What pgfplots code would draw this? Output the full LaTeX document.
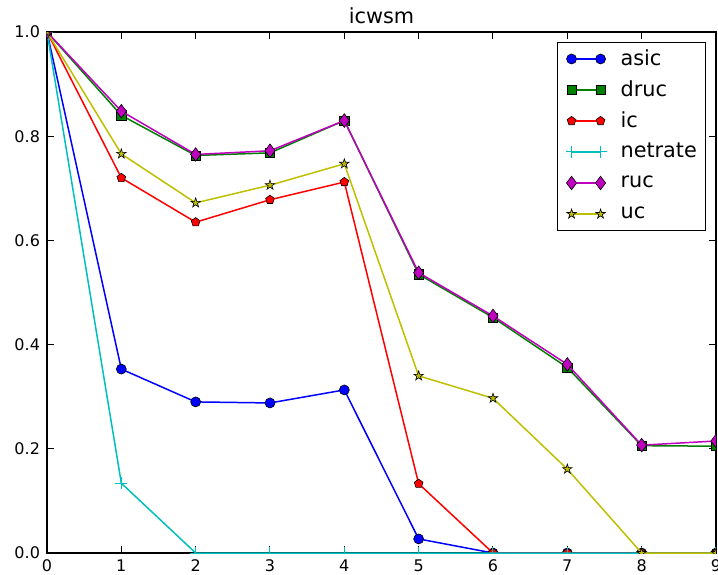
\documentclass[border=0pt]{standalone}
\usepackage{fontspec}
\setmainfont{DejaVu Sans}
\usepackage{pgfplots}
\pgfplotsset{compat=1.18}
\definecolor{mblue}{rgb}{0,0,1}
\definecolor{mgreen}{rgb}{0,0.5,0}
\definecolor{mred}{rgb}{1,0,0}
\definecolor{mcyan}{rgb}{0,0.75,0.75}
\definecolor{mmag}{rgb}{0.75,0,0.75}
\definecolor{myel}{rgb}{0.75,0.75,0}
% filled five-pointed star, like matplotlib's '*'
\pgfdeclareplotmark{fstar}{%
  \pgfpathmoveto{\pgfpointpolar{90}{\pgfplotmarksize}}%
  \pgfpathlineto{\pgfpointpolar{126}{0.382\pgfplotmarksize}}%
  \pgfpathlineto{\pgfpointpolar{162}{\pgfplotmarksize}}%
  \pgfpathlineto{\pgfpointpolar{198}{0.382\pgfplotmarksize}}%
  \pgfpathlineto{\pgfpointpolar{234}{\pgfplotmarksize}}%
  \pgfpathlineto{\pgfpointpolar{270}{0.382\pgfplotmarksize}}%
  \pgfpathlineto{\pgfpointpolar{306}{\pgfplotmarksize}}%
  \pgfpathlineto{\pgfpointpolar{342}{0.382\pgfplotmarksize}}%
  \pgfpathlineto{\pgfpointpolar{18}{\pgfplotmarksize}}%
  \pgfpathlineto{\pgfpointpolar{54}{0.382\pgfplotmarksize}}%
  \pgfpathclose
  \pgfusepathqfillstroke
}
\begin{document}
\begin{tikzpicture}
\begin{axis}[
  scale only axis,
  width=334.5pt, height=260.5pt,
  xmin=0, xmax=9, ymin=0, ymax=1,
  xtick={0,1,...,9},
  ytick={0,0.2,0.4,0.6,0.8,1.0},
  yticklabel style={/pgf/number format/.cd, fixed, fixed zerofill, precision=1},
  /pgf/number format/assume math mode=true,
  tick align=inside,
  major tick length=3.5pt,
  tick style={black, line width=0.5pt},
  axis line style={black, line width=1pt},
  ticklabel style={font=\fontsize{8}{9}\selectfont},
  title={icwsm},
  title style={font=\fontsize{10.4}{12}\selectfont, yshift=-5.5pt},
  clip marker paths=true,
  every axis plot/.append style={line width=0.75pt},
  legend cell align=left,
  legend style={at={(0.985,0.981)}, anchor=north east, draw=black, line width=0.6pt,
    font=\fontsize{10.4}{12}\selectfont, row sep=0pt, inner xsep=4.2pt, inner ysep=0.5pt,
    nodes={inner sep=0pt, minimum height=15.5pt},
    /tikz/every odd column/.append style={column sep=7pt}},
  legend image code/.code={\draw plot coordinates {(0pt,0pt) (14.5pt,0pt)};},
]
\addplot[mblue, mark=*, mark size=2.5pt, mark options={fill=mblue, draw=black, line width=0.3pt}] coordinates {
  (0,1.0)(1,0.353)(2,0.290)(3,0.288)(4,0.313)(5,0.027)(6,0)(7,0)(8,0)(9,0)};
\addlegendentry{asic}
\addplot[mgreen, mark=square*, mark size=2.3pt, mark options={fill=mgreen, draw=black, line width=0.3pt}] coordinates {
  (0,1.0)(1,0.840)(2,0.763)(3,0.768)(4,0.830)(5,0.535)(6,0.452)(7,0.356)(8,0.206)(9,0.205)};
\addlegendentry{druc}
\addplot[mred, mark=pentagon*, mark size=2.3pt, mark options={fill=mred, draw=black, line width=0.3pt}] coordinates {
  (0,1.0)(1,0.720)(2,0.635)(3,0.678)(4,0.712)(5,0.133)(6,0)(7,0)(8,0)(9,0)};
\addlegendentry{ic}
\addplot[mcyan, mark=+, mark size=3pt, mark options={draw=mcyan, line width=0.5pt}] coordinates {
  (0,1.0)(1,0.134)(2,0)(3,0)(4,0)(5,0)(6,0)(7,0)(8,0)(9,0)};
\addlegendentry{netrate}
\addplot[mmag, mark=diamond*, mark size=3.4pt, mark options={fill=mmag, draw=black, line width=0.3pt}] coordinates {
  (0,1.0)(1,0.848)(2,0.765)(3,0.772)(4,0.830)(5,0.538)(6,0.455)(7,0.362)(8,0.207)(9,0.215)};
\addlegendentry{ruc}
\addplot[myel, mark=fstar, mark size=2.5pt, mark options={fill=myel, draw=black, line width=0.3pt}] coordinates {
  (0,1.0)(1,0.766)(2,0.672)(3,0.706)(4,0.747)(5,0.340)(6,0.297)(7,0.161)(8,0)(9,0)};
\addlegendentry{uc}
\end{axis}
\pgfresetboundingbox
\useasboundingbox (-23.5pt,-10.5pt) rectangle (335.5pt,276.5pt);
\end{tikzpicture}
\end{document}
